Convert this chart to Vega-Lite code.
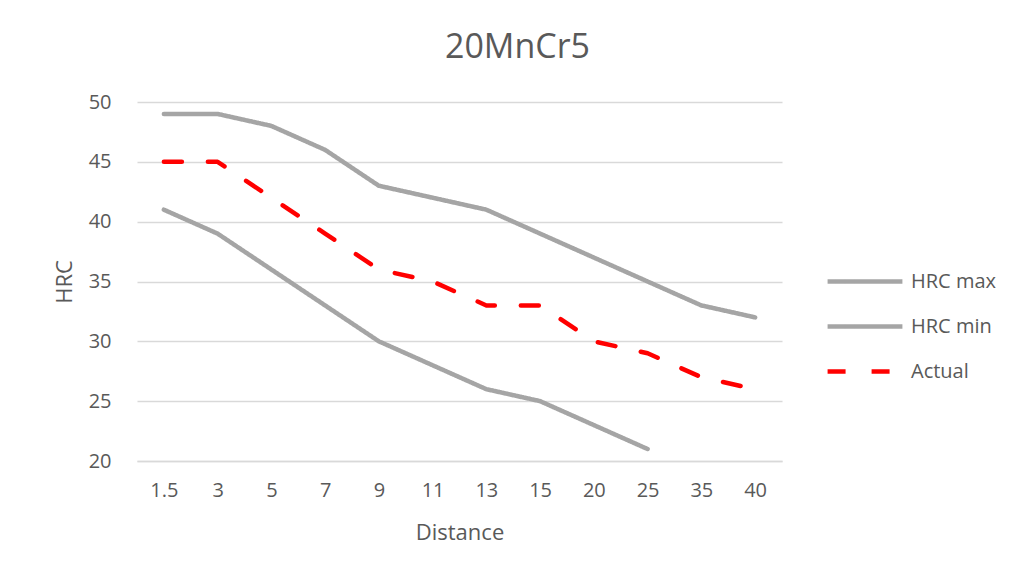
{
  "$schema": "https://vega.github.io/schema/vega-lite/v6.json",
  "width": 645,
  "height": 359,
  "autosize": {"type": "none"},
  "padding": {"left": 137, "top": 102, "right": 240, "bottom": 114},
  "background": "white",
  "title": {
    "text": "20MnCr5",
    "fontSize": 34,
    "fontWeight": "normal",
    "font": "Open Sans",
    "color": "#595959",
    "dx": 58,
    "offset": 27
  },
  "data": {
    "values": [
      {"Distance": 1.5, "series": "HRC max", "HRC": 49},
      {"Distance": 3, "series": "HRC max", "HRC": 49},
      {"Distance": 5, "series": "HRC max", "HRC": 48},
      {"Distance": 7, "series": "HRC max", "HRC": 46},
      {"Distance": 9, "series": "HRC max", "HRC": 43},
      {"Distance": 11, "series": "HRC max", "HRC": 42},
      {"Distance": 13, "series": "HRC max", "HRC": 41},
      {"Distance": 15, "series": "HRC max", "HRC": 39},
      {"Distance": 20, "series": "HRC max", "HRC": 37},
      {"Distance": 25, "series": "HRC max", "HRC": 35},
      {"Distance": 35, "series": "HRC max", "HRC": 33},
      {"Distance": 40, "series": "HRC max", "HRC": 32},
      {"Distance": 1.5, "series": "HRC min", "HRC": 41},
      {"Distance": 3, "series": "HRC min", "HRC": 39},
      {"Distance": 5, "series": "HRC min", "HRC": 36},
      {"Distance": 7, "series": "HRC min", "HRC": 33},
      {"Distance": 9, "series": "HRC min", "HRC": 30},
      {"Distance": 11, "series": "HRC min", "HRC": 28},
      {"Distance": 13, "series": "HRC min", "HRC": 26},
      {"Distance": 15, "series": "HRC min", "HRC": 25},
      {"Distance": 20, "series": "HRC min", "HRC": 23},
      {"Distance": 25, "series": "HRC min", "HRC": 21},
      {"Distance": 1.5, "series": "Actual", "HRC": 45},
      {"Distance": 3, "series": "Actual", "HRC": 45},
      {"Distance": 5, "series": "Actual", "HRC": 42},
      {"Distance": 7, "series": "Actual", "HRC": 39},
      {"Distance": 9, "series": "Actual", "HRC": 36},
      {"Distance": 11, "series": "Actual", "HRC": 35},
      {"Distance": 13, "series": "Actual", "HRC": 33},
      {"Distance": 15, "series": "Actual", "HRC": 33},
      {"Distance": 20, "series": "Actual", "HRC": 30},
      {"Distance": 25, "series": "Actual", "HRC": 29},
      {"Distance": 35, "series": "Actual", "HRC": 27},
      {"Distance": 40, "series": "Actual", "HRC": 26}
    ]
  },
  "mark": {"type": "line", "strokeWidth": 4.5, "strokeCap": "round", "strokeJoin": "round"},
  "encoding": {
    "x": {
      "field": "Distance",
      "type": "ordinal",
      "scale": {"type": "point", "padding": 0.5},
      "axis": {
        "title": "Distance",
        "labelAngle": 0,
        "ticks": false,
        "grid": false,
        "domainColor": "#D9D9D9",
        "domainWidth": 1.5,
        "labelPadding": 19,
        "titlePadding": 22
      }
    },
    "y": {
      "field": "HRC",
      "type": "quantitative",
      "scale": {"domain": [20, 50], "nice": false, "zero": false},
      "axis": {
        "title": "HRC",
        "values": [20, 25, 30, 35, 40, 45, 50],
        "ticks": false,
        "domain": false,
        "gridColor": "#D9D9D9",
        "gridWidth": 1.5,
        "labelPadding": 26,
        "titlePadding": 12
      }
    },
    "color": {
      "field": "series",
      "type": "nominal",
      "scale": {"domain": ["HRC max", "HRC min", "Actual"], "range": ["#A5A5A5", "#A5A5A5", "#FF0000"]},
      "legend": {
        "title": null,
        "orient": "none",
        "legendX": 688,
        "legendY": 157,
        "symbolType": "stroke",
        "symbolSize": 5600,
        "symbolStrokeWidth": 4.5,
        "clipHeight": 45,
        "rowPadding": 0,
        "labelOffset": 6
      }
    },
    "strokeDash": {
      "field": "series",
      "type": "nominal",
      "scale": {"domain": ["HRC max", "HRC min", "Actual"], "range": [[1, 0], [1, 0], [18, 26]]},
      "legend": null
    }
  },
  "config": {
    "font": "Open Sans",
    "view": {"stroke": null},
    "axis": {
      "labelFont": "Open Sans",
      "labelFontSize": 20,
      "labelColor": "#595959",
      "titleFont": "Open Sans",
      "titleFontSize": 22,
      "titleFontWeight": "normal",
      "titleColor": "#595959"
    },
    "legend": {
      "labelFont": "Open Sans",
      "labelFontSize": 20,
      "labelColor": "#595959"
    }
  }
}
